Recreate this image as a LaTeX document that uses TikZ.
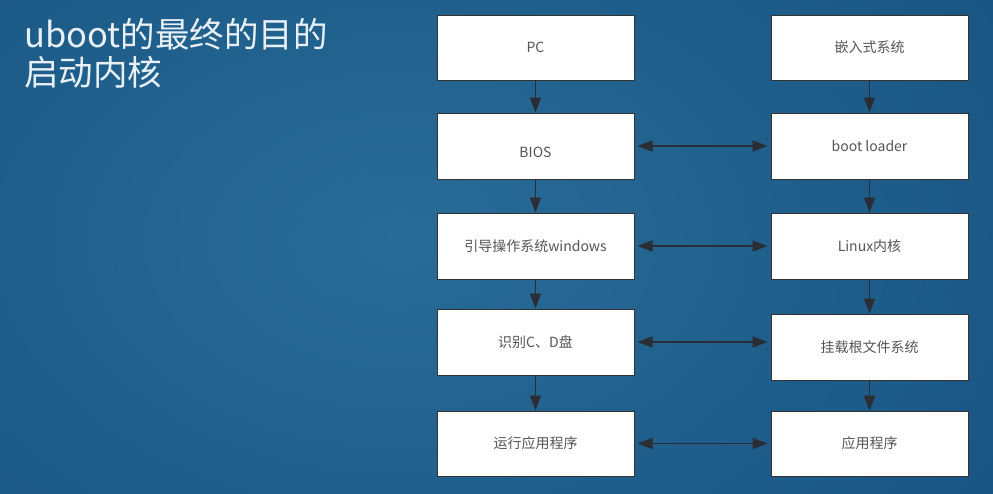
\documentclass[tikz,border=0pt]{standalone}
\usepackage{fontspec}
\setmainfont{Noto Sans CJK SC}
\usetikzlibrary{arrows.meta}
\definecolor{bgin}{HTML}{296C98}
\definecolor{bgmid}{HTML}{185482}
\definecolor{bgout}{HTML}{0D2E4D}
\definecolor{boxline}{HTML}{333333}
\definecolor{boxtext}{HTML}{555555}
\definecolor{arrowcol}{HTML}{2A2D33}
\definecolor{titlecol}{HTML}{E8F0F6}
\pgfdeclareradialshading{bgshade}{\pgfpoint{0bp}{0bp}}{color(0bp)=(bgin); color(30bp)=(bgmid); color(50bp)=(bgout)}
\tikzset{
  stepbox/.style={draw=boxline, line width=1pt, fill=white, minimum width=197pt, minimum height=66pt, inner sep=0pt, text=boxtext, font=\fontsize{14pt}{16pt}\selectfont},
  flow/.style={draw=arrowcol, line width=1.8pt, -{Triangle[length=15pt,width=11pt]}},
  both/.style={draw=arrowcol, line width=1.8pt, {Triangle[length=15pt,width=11pt]}-{Triangle[length=15pt,width=11pt]}, shorten <=3pt, shorten >=3pt},
  title/.style={anchor=base west, inner sep=0pt, text=titlecol, font=\fontsize{34.5pt}{38pt}\selectfont}
}
\begin{document}
\begin{tikzpicture}[x=1pt,y=-1pt]
\useasboundingbox (0,0) rectangle (993,493);
\begin{scope}
\clip (0,0) rectangle (993,493);
\shade[shading=bgshade] (-200,-160) rectangle (1000,640);
\end{scope}
\node[title] (t1) at (24,47) {uboot的最终的目的};
\node[title] (t2) at (24,85) {启动内核};
% left column
\node[stepbox, minimum height=65pt] (pc) at (535.5,47.5) {PC};
\node[stepbox] (bios) at (535.5,146) {\raisebox{-11pt}[0pt][0pt]{BIOS}};
\node[stepbox] (win) at (535.5,246) {引导操作系统windows};
\node[stepbox] (cd) at (535.5,342) {识别C、D盘};
\node[stepbox, minimum height=65pt] (run) at (535.5,443.5) {运行应用程序};
% right column
\node[stepbox, minimum height=65pt] (emb) at (869.5,47.5) {嵌入式系统};
\node[stepbox] (boot) at (869.5,146) {boot loader};
\node[stepbox] (linux) at (869.5,246) {Linux内核};
\node[stepbox] (mount) at (869.5,347) {挂载根文件系统};
\node[stepbox, minimum height=65pt] (app) at (869.5,443.5) {应用程序};
% vertical arrows
\draw[flow] (pc) -- (bios);
\draw[flow] (bios) -- (win);
\draw[flow] (win) -- (cd);
\draw[flow] (cd) -- (run);
\draw[flow] (emb) -- (boot);
\draw[flow] (boot) -- (linux);
\draw[flow] (linux) -- (mount);
\draw[flow] (mount) -- (app);
% horizontal double arrows
\draw[both] (bios.east) -- (bios.east -| boot.west);
\draw[both] (win.east) -- (win.east -| linux.west);
\draw[both] (cd.east) -- (cd.east -| mount.west);
\draw[both] (run.east) -- (run.east -| app.west);
\end{tikzpicture}
\end{document}
